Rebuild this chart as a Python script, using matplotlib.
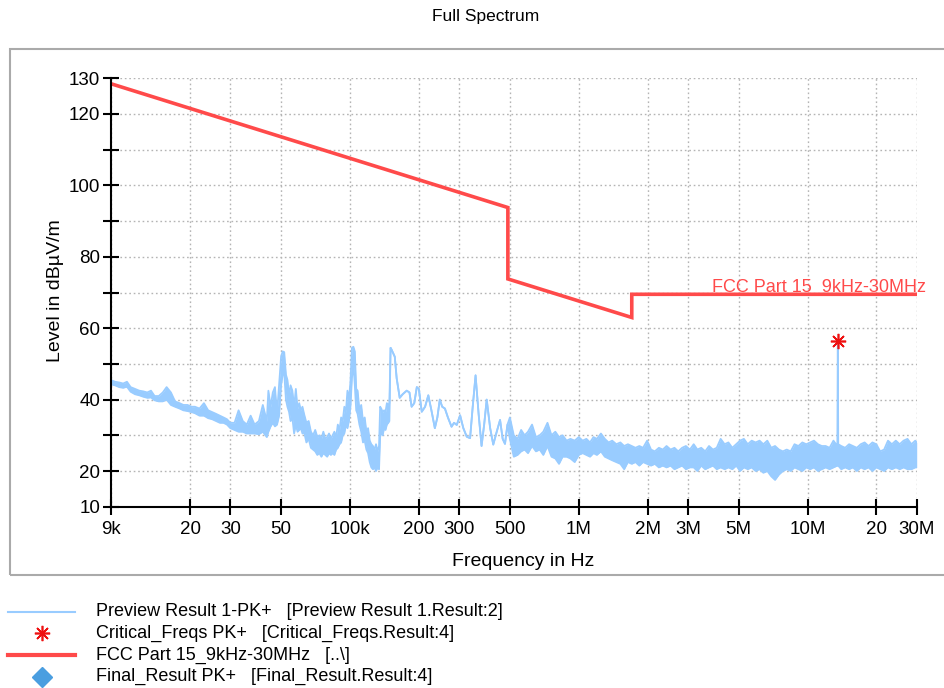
import matplotlib
matplotlib.use('Agg')
import matplotlib.pyplot as plt
from matplotlib.lines import Line2D
from matplotlib.patches import Rectangle
from matplotlib.ticker import NullLocator, FixedLocator, FixedFormatter
import matplotlib.transforms as mtransforms

plt.rcParams['font.family'] = ['Liberation Sans', 'DejaVu Sans']

# ---------------- data ----------------
# Preview Result 1-PK+ : frequency (kHz) with upper / lower envelope of the trace (dBuV/m)
# segment 1: 9 kHz - 42 kHz (thin noisy line)
seg1_freq_khz = [9, 9.4, 9.8, 10.2, 10.6, 11, 11.5, 12, 12.5, 13, 13.5, 14, 14.6, 15.2, 15.8, 16.5, 17.2,
                 18, 18.7, 19.5, 20.3, 21, 22, 23, 24, 25, 26, 27, 28, 29, 30, 31.3, 32.6, 34, 35.4, 36.8,
                 38.3, 40, 41.6]
seg1_hi = [45.5, 45, 44.8, 44.5, 45, 43.5, 43, 42.5, 42.3, 42, 42.5, 41, 41, 42, 43.5, 42, 39.5,
           39, 38.5, 38.5, 38, 38, 37.5, 39, 37, 36.5, 36, 35.5, 35, 34.5, 33.5, 33.5, 37, 34, 33, 35.5,
           33, 34, 38.5]
seg1_lo = [44.3, 44, 43.5, 43.3, 43.6, 42.2, 41.5, 41.2, 40.8, 40.5, 40.6, 39.8, 39.5, 39.5, 40, 38.5, 38,
           37.5, 37, 36.8, 36.5, 36.2, 35.5, 35.5, 34.8, 34.5, 34, 33.5, 33.5, 33, 32, 31.5, 31, 31, 30.5, 30.5,
           30.5, 30.3, 31]

# segment 2: 43 kHz - 149 kHz (wide noisy band with 50 kHz / 100 kHz peaks)
seg2_freq_khz = [43.3, 44, 45, 46, 47, 48, 49, 50, 50.8, 51.6,
                 52.5, 53.3, 54.2, 55, 56, 57, 58, 59, 60, 61,
                 62, 63, 64.5, 66, 67.5, 69, 70.5, 72, 73.5, 75,
                 76.5, 78, 79.5, 81, 82.5, 84, 85.5, 87, 88.5, 90,
                 91.5, 93, 94.5, 96, 97.5, 99, 100.5, 102, 103.5, 105,
                 106.5, 108, 110, 112, 114, 116, 118, 120, 122, 124,
                 126, 128, 130, 132, 134, 135.5, 137, 139, 141, 143,
                 145, 147, 148.7]
seg2_hi = [34, 42.5, 38, 42, 43.5, 36, 44, 52, 53.5, 53.3,
           47, 45.5, 41, 44, 42.5, 38, 43, 37.5, 39, 37,
           38, 36, 33.5, 34, 31, 30, 31.5, 29.5, 30, 29,
           31, 29, 29.5, 30.5, 29, 30, 31, 29.5, 33, 31.5,
           35, 34, 38, 36.5, 42.5, 40, 45, 54.5, 54.8, 53.5,
           43, 42.5, 37, 38.5, 34, 35, 31, 32, 28.5, 27.5,
           27, 26, 27.5, 25.5, 27, 38, 37.5, 36.5, 37, 36.5,
           39, 38.5, 39]
seg2_lo = [29.5, 31, 32.5, 33.5, 32.5, 33, 35.5, 44, 47, 47.5,
           40, 38, 36.5, 34, 35, 30.5, 33, 31, 31.5, 32,
           30.5, 31, 28, 29, 26.5, 26, 25.5, 24.5, 25, 24,
           25, 24.5, 24, 25, 24.5, 25, 24.5, 26, 26.5, 27.5,
           28, 30, 30.5, 33, 32, 34, 38, 46, 50, 44,
           37, 36, 33, 31, 28, 28.5, 26, 25, 22.5, 21,
           20.5, 21, 20, 21, 20.5, 29.5, 31, 30, 32, 31.5,
           33, 33.5, 34]

# segment 3: 150 kHz - 490 kHz (single thin line)
seg3_freq_khz = [150.5, 152, 157, 160, 165, 170, 177, 182, 186, 191, 196, 200, 206, 213, 220, 227, 235,
                 241, 247, 253, 260, 268, 278, 285, 293, 303, 313, 324, 335, 344, 354, 365, 376, 386, 396,
                 410, 423, 438, 453, 465, 476, 488]
seg3_level = [54.5, 54, 52, 46, 40.5, 41.5, 42.5, 42, 38, 39, 43.5, 43, 36.6, 38, 41.2, 37, 32,
              35, 40, 38, 37.5, 35, 32.4, 33.5, 32.9, 35.6, 32, 29.6, 29.2, 38, 46.8, 36, 27, 33, 40,
              32, 27.4, 31, 34.3, 29, 27.6, 33]

# segment 4: 500 kHz - 30 MHz (dense noise band, 13.56 MHz carrier)
seg4_freq_khz = [500, 520, 540, 560, 580, 600, 625, 650, 675, 700, 730, 760, 790, 820, 850, 885, 920, 960,
                 1000, 1040, 1080, 1120, 1160, 1200, 1250, 1300, 1350, 1400, 1460, 1520, 1580, 1640, 1705,
                 1770, 1840, 1910, 1990, 2070, 2150, 2240, 2330, 2420, 2520, 2620, 2720, 2830, 2940, 3060,
                 3180, 3300, 3430, 3570, 3710, 3860, 4010, 4170, 4340, 4510, 4690, 4880, 5070, 5270, 5480,
                 5700, 5930, 6170, 6410, 6670, 6940, 7210, 7500, 7800, 8110, 8440, 8770, 9120, 9490, 9870,
                 10260, 10670, 11100, 11540, 12000, 12480, 12980, 13500, 13560, 13620, 14040, 14600, 15190,
                 15790, 16420, 17080, 17760, 18470, 19210, 19980, 20780, 21610, 22470, 23370, 24310, 25280,
                 26290, 27340, 28440, 29570, 30000]
seg4_hi = [35, 30, 29, 31.5, 30, 31, 33, 29.5, 30, 31, 33.5, 30, 31, 29.5, 30, 28.5, 29, 28.5,
           29.5, 28.5, 29, 28, 29.5, 29, 30.5, 29, 28, 28.5, 27.5, 28, 27, 27.5, 27,
           26.5, 27, 26.5, 28.5, 26, 25.5, 26.5, 26, 27, 26, 26.5, 25.5, 26.5, 27, 26,
           27.5, 26, 26.5, 25.5, 27, 26, 26.5, 29, 27.5, 28, 26.5, 27.5, 28.5, 29, 27.5,
           28.5, 28, 28.5, 27.5, 28.5, 26.5, 27, 26, 25.5, 26, 25.5, 27.5, 27, 28, 27.5,
           28, 28.5, 27.5, 27, 27, 26.5, 28.5, 27, 56.5, 27.5, 27, 26.5, 27.5,
           27, 26.5, 27.5, 28, 27, 28, 27.5, 25.5, 26, 28.5, 27.5, 28.5, 27.5,
           28.5, 29, 27.5, 28.5, 28]
seg4_lo = [29, 24, 24.5, 25.5, 26, 25, 27, 25.5, 26, 24.5, 27, 24, 23.5, 22, 24, 24, 23.5, 22.5,
           24.5, 25, 24.5, 24, 25, 24.5, 25.5, 24, 23.5, 23, 22.5, 22, 20.5, 22.5, 22,
           22.5, 21.5, 22.5, 22, 21.5, 22, 21, 21.5, 21, 21.5, 20.5, 21, 21.5, 20.5, 21,
           21, 20, 21.5, 20.5, 21, 21.5, 20.5, 21, 20.5, 21, 20.5, 21.5, 20, 21, 20.5,
           21, 20, 20.5, 19.5, 20, 18.5, 17.5, 19, 20, 20.5, 20, 21, 20.5, 20, 21,
           20.5, 21, 20, 20.5, 21, 20.5, 21, 21.5, 22, 21.5, 20.5, 21, 20.5,
           21, 20, 21, 20.5, 21, 20, 21, 20.5, 20, 21, 20.5, 21, 20.5,
           21, 20.5, 20.5, 21, 21]

# FCC Part 15 limit line (breakpoints)
limit_freq_khz = [9, 490, 490, 1705, 1705, 30000]
limit_level = [128.5, 93.8, 73.8, 63.0, 69.5, 69.5]

# Critical frequencies
crit_freq_khz = [13560]
crit_level = [56.5]

# Axis ticks
xtick_khz = [9, 20, 30, 50, 100, 200, 300, 500, 1000, 2000, 3000, 5000, 10000, 20000, 30000]
xtick_labels = ['9k', '20', '30', '50', '100k', '200', '300', '500', '1M', '2M', '3M', '5M', '10M', '20', '30M']
ytick_vals = [10, 20, 30, 40, 50, 60, 70, 80, 90, 100, 110, 120, 130]
ytick_labels = ['10', '20', '', '40', '', '60', '', '80', '', '100', '', '120', '130']

legend_labels = [
    'Preview Result 1-PK+   [Preview Result 1.Result:2]',
    'Critical_Freqs PK+   [Critical_Freqs.Result:4]',
    'FCC Part 15_9kHz-30MHz   [..\\]',
    'Final_Result PK+   [Final_Result.Result:4]',
]
limit_label = 'FCC Part 15  9kHz-30MHz'

# ---------------- style ----------------
TRACE_C = '#99ccff'
LIMIT_C = '#ff4a4a'
CRIT_C = '#ee1111'
FINAL_C = '#4a9ee0'
GRID_C = '#b4b4b4'

W, H = 944, 688
fig = plt.figure(figsize=(W / 100, H / 100), dpi=100)


def fx(px):
    return px / W


def fy(py):
    return 1 - py / H


# outer frame
fig.add_artist(Rectangle((fx(10), fy(575)), 1.2, (575 - 48.7) / H, transform=fig.transFigure,
                         fill=False, ec='#aaaaaa', lw=1.5))

ax_l, ax_r, ax_t, ax_b = 110.7, 916.7, 78.3, 506.7
ax = fig.add_axes([fx(ax_l), fy(ax_b), (ax_r - ax_l) / W, (ax_b - ax_t) / H])
ax.set_xscale('log')
ax.set_xlim(9e3, 30e6)
ax.set_ylim(10, 130)
ax.patch.set_alpha(0)

# trace
freq_hz = [f * 1e3 for f in seg1_freq_khz + seg2_freq_khz + seg3_freq_khz + seg4_freq_khz]
trace_hi = seg1_hi + seg2_hi + seg3_level + seg4_hi
trace_lo = seg1_lo + seg2_lo + seg3_level + seg4_lo
ax.fill_between(freq_hz, trace_lo, trace_hi, color=TRACE_C, lw=0, zorder=3)
ax.plot(freq_hz, trace_hi, color=TRACE_C, lw=1.3, zorder=3)
ax.plot(freq_hz, trace_lo, color=TRACE_C, lw=1.3, zorder=3)

# limit line
ax.plot([f * 1e3 for f in limit_freq_khz], limit_level, color=LIMIT_C, lw=2.6, zorder=4,
        solid_joinstyle='miter')

# critical frequency
ax.plot([f * 1e3 for f in crit_freq_khz], crit_level, ls='none', marker=(8, 2, 0), ms=11,
        mew=1.2, color=CRIT_C, zorder=5)

trans = mtransforms.blended_transform_factory(ax.transAxes, ax.transData)
ax.text((926 - ax_l) / (ax_r - ax_l), 70.1, limit_label, transform=trans, ha='right',
        va='baseline', color=LIMIT_C, fontsize=13)

# ticks
ax.xaxis.set_major_locator(FixedLocator([f * 1e3 for f in xtick_khz]))
ax.xaxis.set_major_formatter(FixedFormatter(xtick_labels))
ax.xaxis.set_minor_locator(NullLocator())
ax.yaxis.set_major_locator(FixedLocator(ytick_vals))
ax.yaxis.set_major_formatter(FixedFormatter(ytick_labels))
ax.yaxis.set_minor_locator(NullLocator())
ax.tick_params(axis='both', direction='inout', length=11, width=1.5, labelsize=13.5, colors='black')
ax.tick_params(axis='x', pad=5)
ax.tick_params(axis='y', pad=2)

for s in ['top', 'right']:
    ax.spines[s].set_visible(False)
for s in ['left', 'bottom']:
    ax.spines[s].set_linewidth(1.5)
    ax.spines[s].set_zorder(6)

ax.grid(True, which='major', color=GRID_C, lw=1.0, linestyle=(0, (1.2, 2.0)), zorder=1)
ax.set_axisbelow(True)

# titles
fig.text(fx(486), fy(16), 'Full Spectrum', ha='center', va='center', fontsize=12.5)
fig.text(fx(523), fy(562), 'Frequency in Hz', ha='center', va='center', fontsize=14)
fig.text(fx(55), fy(291), 'Level in dB\u00b5V/m', rotation=90, ha='center', va='center', fontsize=14)

# legend (drawn below the chart)
rows = [611.5, 633.3, 655.0, 676.5]
fig.add_artist(Line2D([fx(8), fx(75)], [fy(rows[0])] * 2, transform=fig.transFigure,
                      color=TRACE_C, lw=1.5))
fig.add_artist(Line2D([fx(42)], [fy(rows[1])], transform=fig.transFigure, ls='none',
                      marker=(8, 2, 0), ms=11, mew=1.2, color=CRIT_C))
fig.add_artist(Line2D([fx(8), fx(75)], [fy(rows[2])] * 2, transform=fig.transFigure,
                      color=LIMIT_C, lw=3))
fig.add_artist(Line2D([fx(42)], [fy(rows[3])], transform=fig.transFigure, ls='none',
                      marker='D', ms=10, color=FINAL_C))
for r, lab in zip(rows, legend_labels):
    fig.text(fx(96), fy(r), lab, ha='left', va='center', fontsize=13)

fig.savefig('out.png', dpi=100)
